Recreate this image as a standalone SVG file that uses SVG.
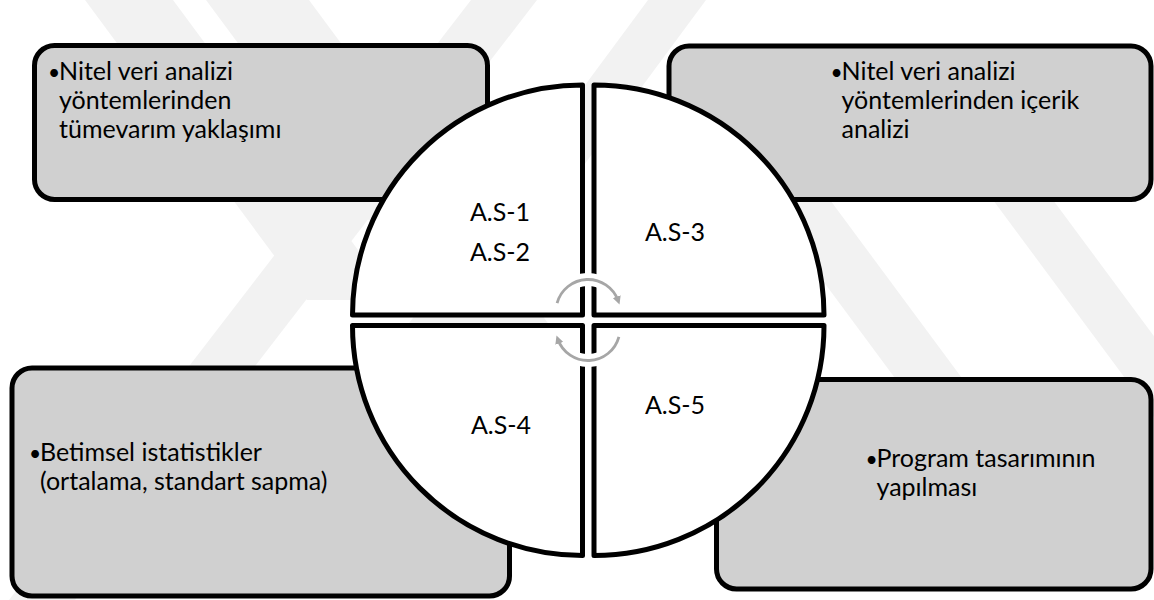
<svg xmlns="http://www.w3.org/2000/svg" width="1154" height="600" viewBox="0 0 1154 600">
  <defs>
    <style>
      .band { fill: #f2f2f2; }
      .box { fill: #d0d0d0; stroke: #000; stroke-width: 5; }
      .quad { fill: #fff; stroke: #000; stroke-width: 5; stroke-linejoin: round; }
      .txt { font-family: Lato, "Open Sans", "Liberation Sans", sans-serif; font-size: 25px; fill: #000; }
      .dot { font-size: 21px; }
      .lbl { font-family: Lato, "Open Sans", "Liberation Sans", sans-serif; font-size: 25px; fill: #000; text-anchor: middle; }
      .halo { fill: none; stroke: #fff; stroke-width: 13; }
      .cyc { fill: none; stroke: #a6a6a6; stroke-width: 2.8; }
    </style>
    <marker id="cycHead" viewBox="0 0 10 10" refX="5" refY="5" markerWidth="3" markerHeight="3" orient="auto" markerUnits="strokeWidth">
      <path d="M0,0 L10,5 L0,10 Z" fill="#a6a6a6"/>
    </marker>
  </defs>

  <rect width="1154" height="600" fill="#fff"/>

  <!-- faint background bands -->
  <g id="background">
    <polygon class="band" points="85,0 173,0 395,300 307,300"/>
    <polygon class="band" points="206,0 309,0 553,330 450,330"/>
    <polygon class="band" points="471,0 537,0 75,600 9,600"/>
    <polygon class="band" points="648,0 706,0 462,330 404,330"/>
    <polygon class="band" points="689,100 756,100 993,420 926,420"/>
    <polygon class="band" points="919,100 979,100 1216,420 1156,420"/>
  </g>

  <!-- outer boxes -->
  <g id="box-tl">
    <rect class="box" x="34.5" y="45.5" width="453" height="154" rx="20"/>
    <text class="txt" x="48" y="80"><tspan class="dot">•</tspan><tspan x="59">Nitel veri analizi</tspan></text>
    <text class="txt" x="59" y="109">yöntemlerinden</text>
    <text class="txt" x="59" y="138">tümevarım yaklaşımı</text>
  </g>
  <g id="box-tr">
    <rect class="box" x="669" y="46" width="482" height="153.5" rx="20"/>
    <text class="txt" x="830.5" y="80"><tspan class="dot">•</tspan><tspan x="841.5">Nitel veri analizi</tspan></text>
    <text class="txt" x="841.5" y="109">yöntemlerinden içerik</text>
    <text class="txt" x="841.5" y="138">analizi</text>
  </g>
  <g id="box-bl">
    <rect class="box" x="12" y="368" width="497.5" height="228" rx="20"/>
    <text class="txt" x="29" y="461"><tspan class="dot">•</tspan><tspan x="40">Betimsel istatistikler</tspan></text>
    <text class="txt" x="40" y="490">(ortalama, standart sapma)</text>
  </g>
  <g id="box-br">
    <rect class="box" x="716.5" y="379.5" width="434.5" height="209.5" rx="20"/>
    <text class="txt" x="865.5" y="467"><tspan class="dot">•</tspan><tspan x="876.5">Program tasarımının</tspan></text>
    <text class="txt" x="876.5" y="496">yapılması</text>
  </g>

  <!-- central circle, four quadrants -->
  <g id="quad-tl">
    <path class="quad" d="M582.5,315 H352.5 A230,230 0 0 1 582.5,85 Z"/>
    <text class="lbl" x="500" y="221">A.S-1</text>
    <text class="lbl" x="500" y="261">A.S-2</text>
  </g>
  <g id="quad-tr">
    <path class="quad" d="M594,315 V85 A230,230 0 0 1 824,315 Z"/>
    <text class="lbl" x="675" y="241">A.S-3</text>
  </g>
  <g id="quad-bl">
    <path class="quad" d="M582.5,325.5 V555.5 A230,230 0 0 1 352.5,325.5 Z"/>
    <text class="lbl" x="501" y="434">A.S-4</text>
  </g>
  <g id="quad-br">
    <path class="quad" d="M594,325.5 H824 A230,230 0 0 1 594,555.5 Z"/>
    <text class="lbl" x="675" y="414">A.S-5</text>
  </g>

  <!-- circular arrows at the centre -->
  <g id="connectors">
    <path class="halo" d="M557.1,303.2 A32,32 0 0 1 618.1,300.6"/>
    <path class="halo" d="M618.9,336.8 A32,32 0 0 1 557.9,339.4"/>
    <path class="cyc" d="M557.1,303.2 A32,32 0 0 1 618.1,300.6" marker-end="url(#cycHead)"/>
    <path class="cyc" d="M618.9,336.8 A32,32 0 0 1 557.9,339.4" marker-end="url(#cycHead)"/>
  </g>
</svg>
